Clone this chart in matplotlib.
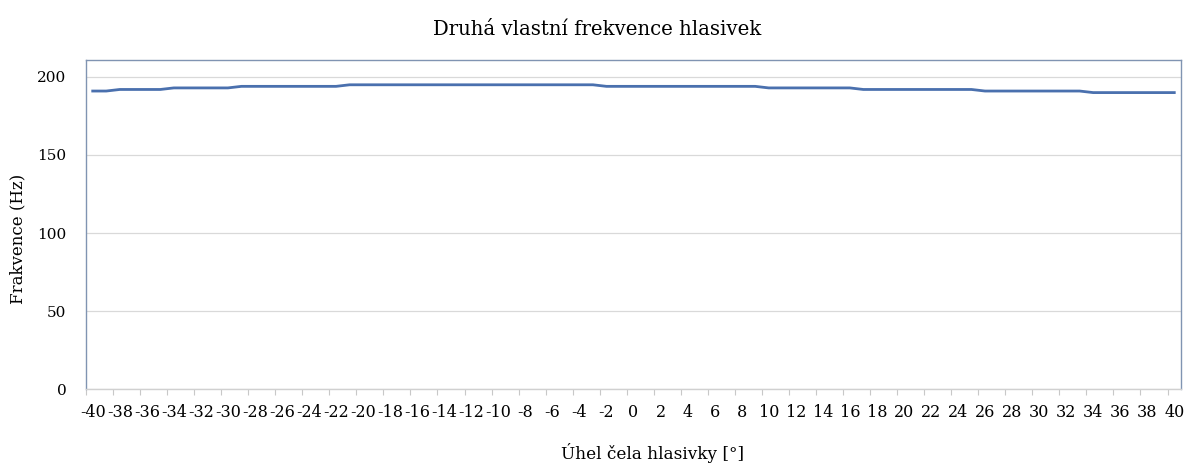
import matplotlib
matplotlib.use("Agg")
import matplotlib.pyplot as plt
from matplotlib.ticker import FixedLocator

plt.rcParams['font.family'] = ['DejaVu Serif']
plt.rcParams['axes.unicode_minus'] = False

title = "Druhá vlastní frekvence hlasivek"
x_label = "Úhel čela hlasivky [°]"
y_label = "Frakvence (Hz)"

angles = list(range(-40, 41))
frequency = [
    191, 191,
    192, 192, 192, 192,
    193, 193, 193, 193, 193,
    194, 194, 194, 194, 194, 194, 194, 194,
    195, 195, 195, 195, 195, 195, 195, 195, 195, 195,
    195, 195, 195, 195, 195, 195, 195, 195, 195,
    194, 194, 194, 194, 194, 194, 194, 194, 194, 194, 194, 194,
    193, 193, 193, 193, 193, 193, 193,
    192, 192, 192, 192, 192, 192, 192, 192, 192,
    191, 191, 191, 191, 191, 191, 191, 191,
    190, 190, 190, 190, 190, 190, 190,
]
x_tick_values = list(range(-40, 41, 2))
y_tick_values = [0, 50, 100, 150, 200]

fig = plt.figure(figsize=(11.89, 4.65), dpi=100)
ax = fig.add_axes([0.0723, 0.1634, 0.9210, 0.7076])

ax.plot(angles, frequency, color='#4a70ae', linewidth=2.0, solid_joinstyle='round')

ax.set_xlim(-40.5, 40.5)
ax.set_ylim(0, 210.9)

ax.set_xticks(x_tick_values)
ax.set_xticklabels([str(v) for v in x_tick_values])
ax.xaxis.set_minor_locator(FixedLocator([v - 0.5 for v in x_tick_values]))
ax.tick_params(axis='x', which='major', length=0, pad=11, labelsize=11.5)
ax.tick_params(axis='x', which='minor', length=4, width=0.8, color='#c8c8c8')

ax.set_yticks(y_tick_values)
ax.tick_params(axis='y', length=0, pad=14, labelsize=11)
ax.grid(axis='y', color='#d9d9d9', linewidth=0.9)
ax.set_axisbelow(True)

frame_color = '#8094b2'
for side in ('left', 'top', 'right'):
    ax.spines[side].set_color(frame_color)
    ax.spines[side].set_linewidth(1.0)
ax.spines['bottom'].set_color('#d0d0d0')
ax.spines['bottom'].set_linewidth(1.0)

fig.suptitle(title, x=0.502, y=0.937, fontsize=14.2, va='center')
ax.set_xlabel(x_label, fontsize=12.2)
ax.set_ylabel(y_label, fontsize=12)
ax.xaxis.set_label_coords(0.517, -0.165)
ax.yaxis.set_label_coords(-0.054, 0.456)

fig.savefig("out.png", dpi=100, facecolor='white')
